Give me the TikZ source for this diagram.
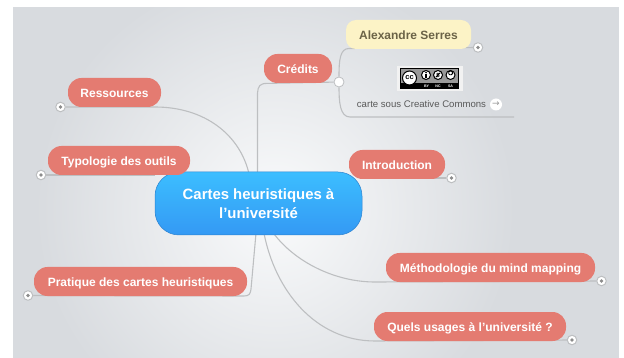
\documentclass[tikz,border=0pt]{standalone}
\usepackage{fontspec}
\setmainfont{Liberation Sans}
\newfontfamily\symfont{DejaVu Sans}
\usetikzlibrary{calc}
\definecolor{bgedge}{HTML}{D8DBDF}
\definecolor{bgmid}{HTML}{FAFBFC}
\definecolor{salmon}{HTML}{E47B71}
\definecolor{wire}{HTML}{BDBFC1}
\definecolor{topblue}{HTML}{3CBEFF}
\definecolor{lowblue}{HTML}{3499F4}
\definecolor{notefill}{HTML}{FCF3C6}
\definecolor{noteink}{HTML}{6B6347}
\pgfdeclarelayer{backdrop}
\pgfdeclarelayer{wires}
\pgfsetlayers{backdrop,wires,main}
\tikzset{
  topic/.style={fill=salmon,rounded corners=13.5pt,minimum height=29pt,inner sep=0pt,text=white,text height=9.6pt,text depth=0pt,font=\bfseries\fontsize{12}{15}\selectfont},
  root/.style={rounded corners=24pt,top color=topblue,bottom color=lowblue,draw=lowblue!85!black,line width=.5pt,minimum width=207pt,minimum height=63pt,inner sep=0pt,text=white,align=center,font=\bfseries\fontsize{14.9}{19.5}\selectfont},
  note/.style={fill=notefill,rounded corners=10pt,minimum height=29pt,minimum width=125pt,inner sep=0pt,text=noteink,text height=9.6pt,text depth=0pt,font=\bfseries\fontsize{12}{15}\selectfont},
  wirecon/.style={draw=wire,line width=1.1pt},
  fold/.style={circle,draw=wire,fill=white,line width=1pt,minimum size=9.5pt,inner sep=0pt,
    path picture={\fill[black!45] (path picture bounding box.center) circle (1.8pt);}},
  badgetext/.style={inner sep=0pt,text=white,font=\bfseries\fontsize{3.6}{4}\selectfont},
  badgering/.style={circle,draw=black,fill=white,line width=1pt,inner sep=0pt},
}
\begin{document}
\begin{tikzpicture}[x=1pt,y=-1pt]
\useasboundingbox (0,0) rectangle (624,358);
\begin{pgfonlayer}{backdrop}
\fill[bgedge] (13,7) rectangle (619,358);
\begin{scope}
\clip (13,7) rectangle (619,358);
\shade[inner color=bgmid,outer color=bgedge] (275,210) circle (240);
\end{scope}
\fill[white] (0,0) rectangle (624,7);
\fill[white] (0,0) rectangle (13,358);
\fill[white] (619,0) rectangle (624,358);
\end{pgfonlayer}
% nodes
\node[root] (c) at (258.5,203.5) {Cartes heuristiques à\\l'université};
\node[topic,minimum width=93pt] (res) at (114.5,92.5) {Ressources};
\node[topic,minimum width=142pt] (typ) at (119,160.5) {Typologie des outils};
\node[topic,minimum width=213pt] (pra) at (140.5,281.5) {Pratique des cartes heuristiques};
\node[topic,minimum width=68pt] (cre) at (298,68.5) {Crédits};
\node[note] (ale) at (408.5,34.5) {Alexandre Serres};
\node[topic,minimum width=96pt] (int) at (397,164.5) {Introduction};
\node[topic,minimum width=209pt] (met) at (490.5,267.5) {Méthodologie du mind mapping};
\node[topic,minimum width=192pt] (que) at (470,326.5) {Quels usages à l'université ?};
\node[font=\fontsize{9.6}{12}\selectfont,text=black!65,inner sep=0pt] (lic) at (421.5,104.5) {carte sous Creative Commons};
\node[circle,fill=white,minimum size=12pt,inner sep=0pt,text=black!40,font=\symfont\fontsize{9}{9}\selectfont] (arr) at (496,104.5) {→};
% licence badge
\fill[black!5] (397,66) rectangle (463,91);
\fill[black!40] (400.5,68.5) rectangle (458.5,88.5);
\fill[black] (400.5,83) rectangle (458.5,88.5);
\draw[black,line width=.8pt] (400.5,68.5) rectangle (458.5,88.5);
\node[badgering,minimum size=14pt,font=\bfseries\fontsize{7.5}{8}\selectfont] (cc) at (409.5,78) {cc};
\node[badgering,minimum size=9pt] (by) at (426,75) {};
\node[badgering,minimum size=9pt,font=\bfseries\fontsize{6}{6}\selectfont] (nc) at (438,75) {\$};
\node[badgering,minimum size=9pt] (sa) at (450.5,75) {};
\fill[black] (426,72.6) circle (.9pt);
\fill[black] (424.6,74) rectangle (427.4,77.8);
\draw[black,line width=.9pt] (nc.north east) ++(-1.2,1.2) -- ($(nc.south west)+(1.2,-1.2)$);
\draw[black,line width=.9pt] (448.7,73.6) arc[start angle=200,end angle=-160,radius=2pt];
\node[badgetext] (bytxt) at (426.5,85.8) {BY};
\node[badgetext] (nctxt) at (438,85.8) {NC};
\node[badgetext] (satxt) at (450.5,85.8) {SA};
% fold markers
\node[fold] (fres) at (60.5,107) {};
\node[fold] (ftyp) at (41,175) {};
\node[fold] (fpra) at (28,295.5) {};
\node[fold] (fale) at (478,47.5) {};
\node[fold] (fint) at (451.5,178) {};
\node[fold] (fmet) at (601.5,281) {};
\node[fold] (fque) at (572,340) {};
\node[circle,draw=wire,fill=white,line width=.8pt,minimum size=10pt,inner sep=0pt] (jct) at (339,82) {};
\coordinate (licend) at (514,117);
% connectors
\begin{pgfonlayer}{wires}
\draw[wirecon] ($(c.north)+(-9.5,2)$) .. controls (240,135) and (205,107) .. (155,107) -- (fres);
\draw[wirecon] (c.west |- ftyp) -- (ftyp);
\draw[wirecon] ($(c.north)+(-1,2)$) -- (257.5,93) .. controls (258,86) and (260,83.4) .. (267,83.4) -- (jct);
\draw[wirecon] (jct) .. controls (339,60) and (340,48.5) .. (349,48.5) -- (fale);
\draw[wirecon] (jct) .. controls (339,102) and (340,117) .. (350,117) -- (licend);
\draw[wirecon] (c.east |- fint) -- (fint);
\draw[wirecon] ($(c.south)+(-2.5,-2)$) -- (251,289) .. controls (250.5,294) and (249,296) .. (244,296) -- (fpra);
\draw[wirecon] ($(c.south)+(15,-2)$) .. controls (295,262) and (335,282) .. (375,282) -- (fmet);
\draw[wirecon] ($(c.south)+(5.5,-2)$) .. controls (275,290) and (315,341) .. (375,341) -- (fque);
\end{pgfonlayer}
\end{tikzpicture}
\end{document}
